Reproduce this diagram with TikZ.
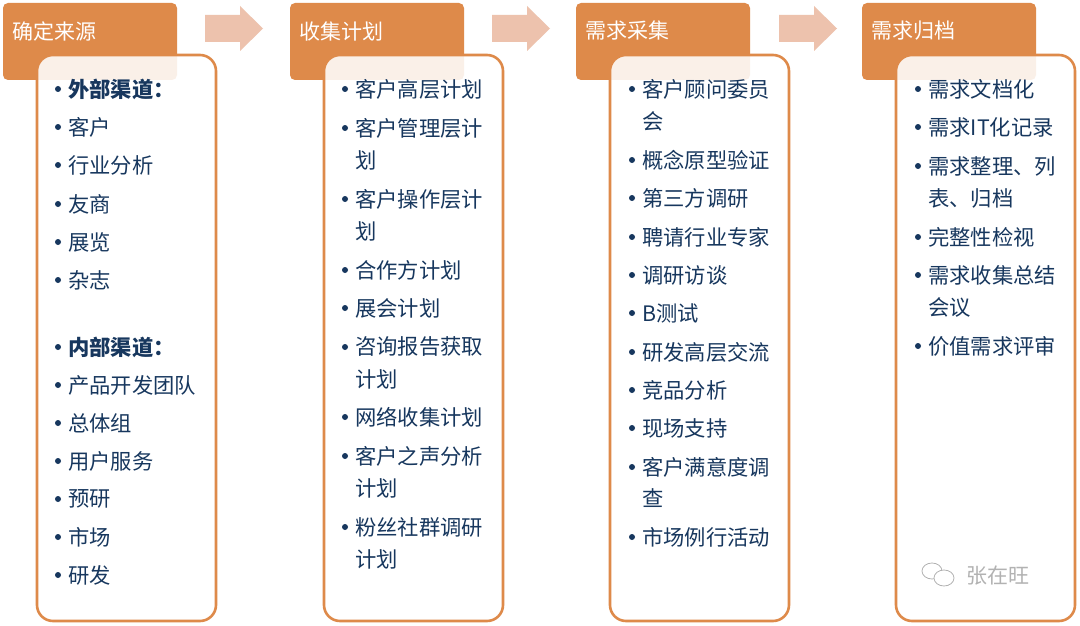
\documentclass[tikz,border=0pt]{standalone}
\usepackage{fontspec}
\setmainfont{Noto Sans CJK SC}
\definecolor{hdr}{HTML}{DE8A4A}
\definecolor{arr}{HTML}{EDC2AD}
\definecolor{txt}{HTML}{17375E}
\tikzset{
 hdrbox/.style={fill=hdr,rounded corners=5pt},
 bodybox/.style={draw=hdr,line width=2.6pt,fill=white,fill opacity=0.88,rounded corners=16pt},
 hdrtxt/.style={anchor=west,text=white,font=\fontsize{21}{21}\selectfont,inner sep=0},
 itxt/.style={anchor=west,text=txt,font=\fontsize{21.3}{21.3}\selectfont,inner sep=0},
 arrshape/.style={fill=arr}
}
\newcommand{\itm}[3]{\fill[txt] (#1,#2) circle (3pt); \node[itxt] at (#1+10,#2) {#3};}
\newcommand{\cnt}[3]{\node[itxt] at (#1+10,#2) {#3};}
\begin{document}
\begin{tikzpicture}[x=1pt,y=-1pt]
\useasboundingbox (0,0) rectangle (1080,626);
\fill[white] (0,0) rectangle (1080,626);
% arrows
\foreach \ax in {205,492,779}{
 \fill[arrshape] (\ax,15) -- (\ax+35,15) -- (\ax+35,6) -- (\ax+58,28.5) -- (\ax+35,51) -- (\ax+35,42) -- (\ax,42) -- cycle;
}
% columns
\foreach \o/\t/\n in {0/确定来源/a,287/收集计划/b,573/需求采集/c,859/需求归档/d}{
 \fill[hdrbox] (3+\o,3) rectangle (177+\o,80);
 \node[hdrtxt] (h\n) at (12+\o,31) {\t};
 \path[bodybox] (37+\o,55) rectangle (216+\o,621);
}
% column 1
\itm{58}{89}{\textbf{外部渠道：}}
\itm{58}{127}{客户}
\itm{58}{165}{行业分析}
\itm{58}{204}{友商}
\itm{58}{242}{展览}
\itm{58}{280}{杂志}
\itm{58}{347}{\textbf{内部渠道：}}
\itm{58}{385}{产品开发团队}
\itm{58}{423}{总体组}
\itm{58}{461}{用户服务}
\itm{58}{499}{预研}
\itm{58}{537}{市场}
\itm{58}{575}{研发}
% column 2
\itm{345}{89}{客户高层计划}
\itm{345}{128}{客户管理层计}\cnt{345}{160}{划}
\itm{345}{199}{客户操作层计}\cnt{345}{231}{划}
\itm{345}{270}{合作方计划}
\itm{345}{308}{展会计划}
\itm{345}{347}{咨询报告获取}\cnt{345}{379}{计划}
\itm{345}{417}{网络收集计划}
\itm{345}{456}{客户之声分析}\cnt{345}{488}{计划}
\itm{345}{527}{粉丝社群调研}\cnt{345}{559}{计划}
% column 3
\itm{632}{89}{客户顾问委员}\cnt{632}{121}{会}
\itm{632}{160}{概念原型验证}
\itm{632}{198}{第三方调研}
\itm{632}{237}{聘请行业专家}
\itm{632}{275}{调研访谈}
\itm{632}{313}{B测试}
\itm{632}{352}{研发高层交流}
\itm{632}{390}{竞品分析}
\itm{632}{428}{现场支持}
\itm{632}{467}{客户满意度调}\cnt{632}{498}{查}
\itm{632}{537}{市场例行活动}
% column 4
\itm{918}{89}{需求文档化}
\itm{918}{127}{需求IT化记录}
\itm{918}{166}{需求整理、列}\cnt{918}{198}{表、归档}
\itm{918}{237}{完整性检视}
\itm{918}{275}{需求收集总结}\cnt{918}{307}{会议}
\itm{918}{346}{价值需求评审}
% watermark
\draw[gray!60,line width=0.8pt] (932,571) ellipse (10pt and 8pt);
\draw[gray!60,line width=0.8pt,fill=white] (944,578) ellipse (10pt and 8pt);
\node[anchor=west,text=gray!60,font=\fontsize{21}{21}\selectfont,inner sep=0] (wm) at (966,576) {张在旺};
\end{tikzpicture}
\end{document}
